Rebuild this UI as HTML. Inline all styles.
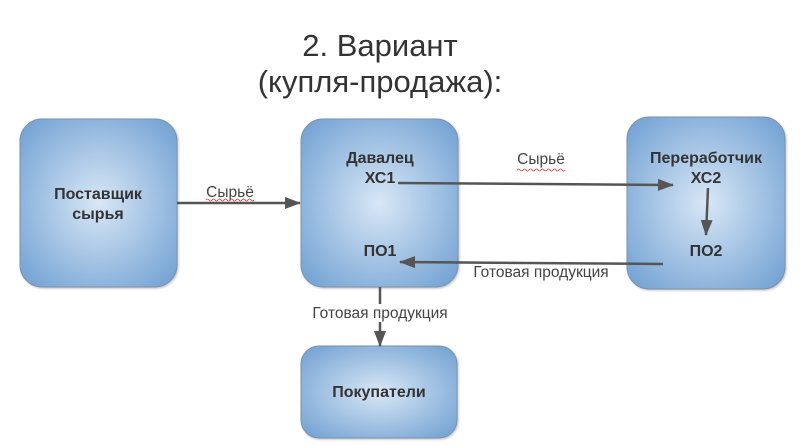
<!DOCTYPE html>
<html><head><meta charset="utf-8"><style>
html,body{margin:0;padding:0;background:#fff;}
svg{display:block;}
text{font-family:"Liberation Sans",Arial,sans-serif;}
.b{font-weight:bold;font-size:16px;fill:#333;}
.l{font-size:15.5px;fill:#444;}
</style></head><body>
<svg width="800" height="447" viewBox="0 0 800 447" xmlns="http://www.w3.org/2000/svg">
<defs>
<radialGradient id="g" cx="50%" cy="50%" r="65%">
<stop offset="0" stop-color="#d8e7f6"/>
<stop offset="1" stop-color="#76a4d4"/>
</radialGradient>
<marker id="a" markerWidth="16" markerHeight="14" refX="15" refY="6" orient="auto" markerUnits="userSpaceOnUse" viewBox="0 0 16 12">
<path d="M0,0 L16,6 L0,12 z" fill="#555"/>
</marker>
<filter id="s" x="-10%" y="-10%" width="130%" height="130%"><feDropShadow dx="1" dy="1" stdDeviation="1" flood-color="#000" flood-opacity="0.25"/></filter>
</defs>
<text x="380" y="56" text-anchor="middle" font-size="31" fill="#333">2. Вариант</text>
<text x="380" y="92" text-anchor="middle" font-size="31" fill="#333">(купля-продажа):</text>

<rect x="20" y="119" width="157" height="168" rx="22" fill="url(#g)" stroke="#7d93ab" stroke-width="1" filter="url(#s)"/>
<rect x="301" y="119" width="157" height="168" rx="22" fill="url(#g)" stroke="#7d93ab" stroke-width="1" filter="url(#s)"/>
<rect x="627" y="117" width="158" height="172" rx="22" fill="url(#g)" stroke="#7d93ab" stroke-width="1" filter="url(#s)"/>
<rect x="301" y="346" width="156" height="92" rx="18" fill="url(#g)" stroke="#7d93ab" stroke-width="1" filter="url(#s)"/>

<text class="b" x="98" y="199" text-anchor="middle">Поставщик</text>
<text class="b" x="98" y="219" text-anchor="middle">сырья</text>
<text class="b" x="380" y="163" text-anchor="middle">Давалец</text>
<text class="b" x="380" y="183" text-anchor="middle">ХС1</text>
<text class="b" x="380" y="256" text-anchor="middle">ПО1</text>
<text class="b" x="706" y="163" text-anchor="middle">Переработчик</text>
<text class="b" x="706" y="183" text-anchor="middle">ХС2</text>
<text class="b" x="706" y="256" text-anchor="middle">ПО2</text>
<text class="b" x="379" y="397" text-anchor="middle">Покупатели</text>

<line x1="177" y1="203" x2="300" y2="203" stroke="#555" stroke-width="2.5" marker-end="url(#a)"/>
<text class="l" x="230" y="197" text-anchor="middle">Сырьё</text>
<path d="M206,200 q1.5,-2 3,0 t3,0 t3,0 t3,0 t3,0 t3,0 t3,0 t3,0 t3,0 t3,0 t3,0 t3,0 t3,0 t3,0 t3,0 t3,0" fill="none" stroke="#e33" stroke-width="0.8"/>

<line x1="398" y1="183" x2="673" y2="185" stroke="#555" stroke-width="2.5" marker-end="url(#a)"/>
<text class="l" x="541" y="164" text-anchor="middle">Сырьё</text>
<path d="M517,170 q1.5,-2 3,0 t3,0 t3,0 t3,0 t3,0 t3,0 t3,0 t3,0 t3,0 t3,0 t3,0 t3,0 t3,0 t3,0 t3,0 t3,0" fill="none" stroke="#e33" stroke-width="0.8"/>

<line x1="708" y1="188" x2="706" y2="235" stroke="#555" stroke-width="2.5" marker-end="url(#a)"/>

<line x1="663" y1="264" x2="400" y2="262" stroke="#555" stroke-width="2.5" marker-end="url(#a)"/>
<text class="l" x="541" y="277" text-anchor="middle">Готовая продукция</text>

<line x1="380" y1="287" x2="380" y2="346" stroke="#555" stroke-width="2.5" marker-end="url(#a)"/>
<rect x="305" y="304" width="150" height="18" fill="#fff"/>
<text class="l" x="380" y="318" text-anchor="middle">Готовая продукция</text>
</svg>
</body></html>
